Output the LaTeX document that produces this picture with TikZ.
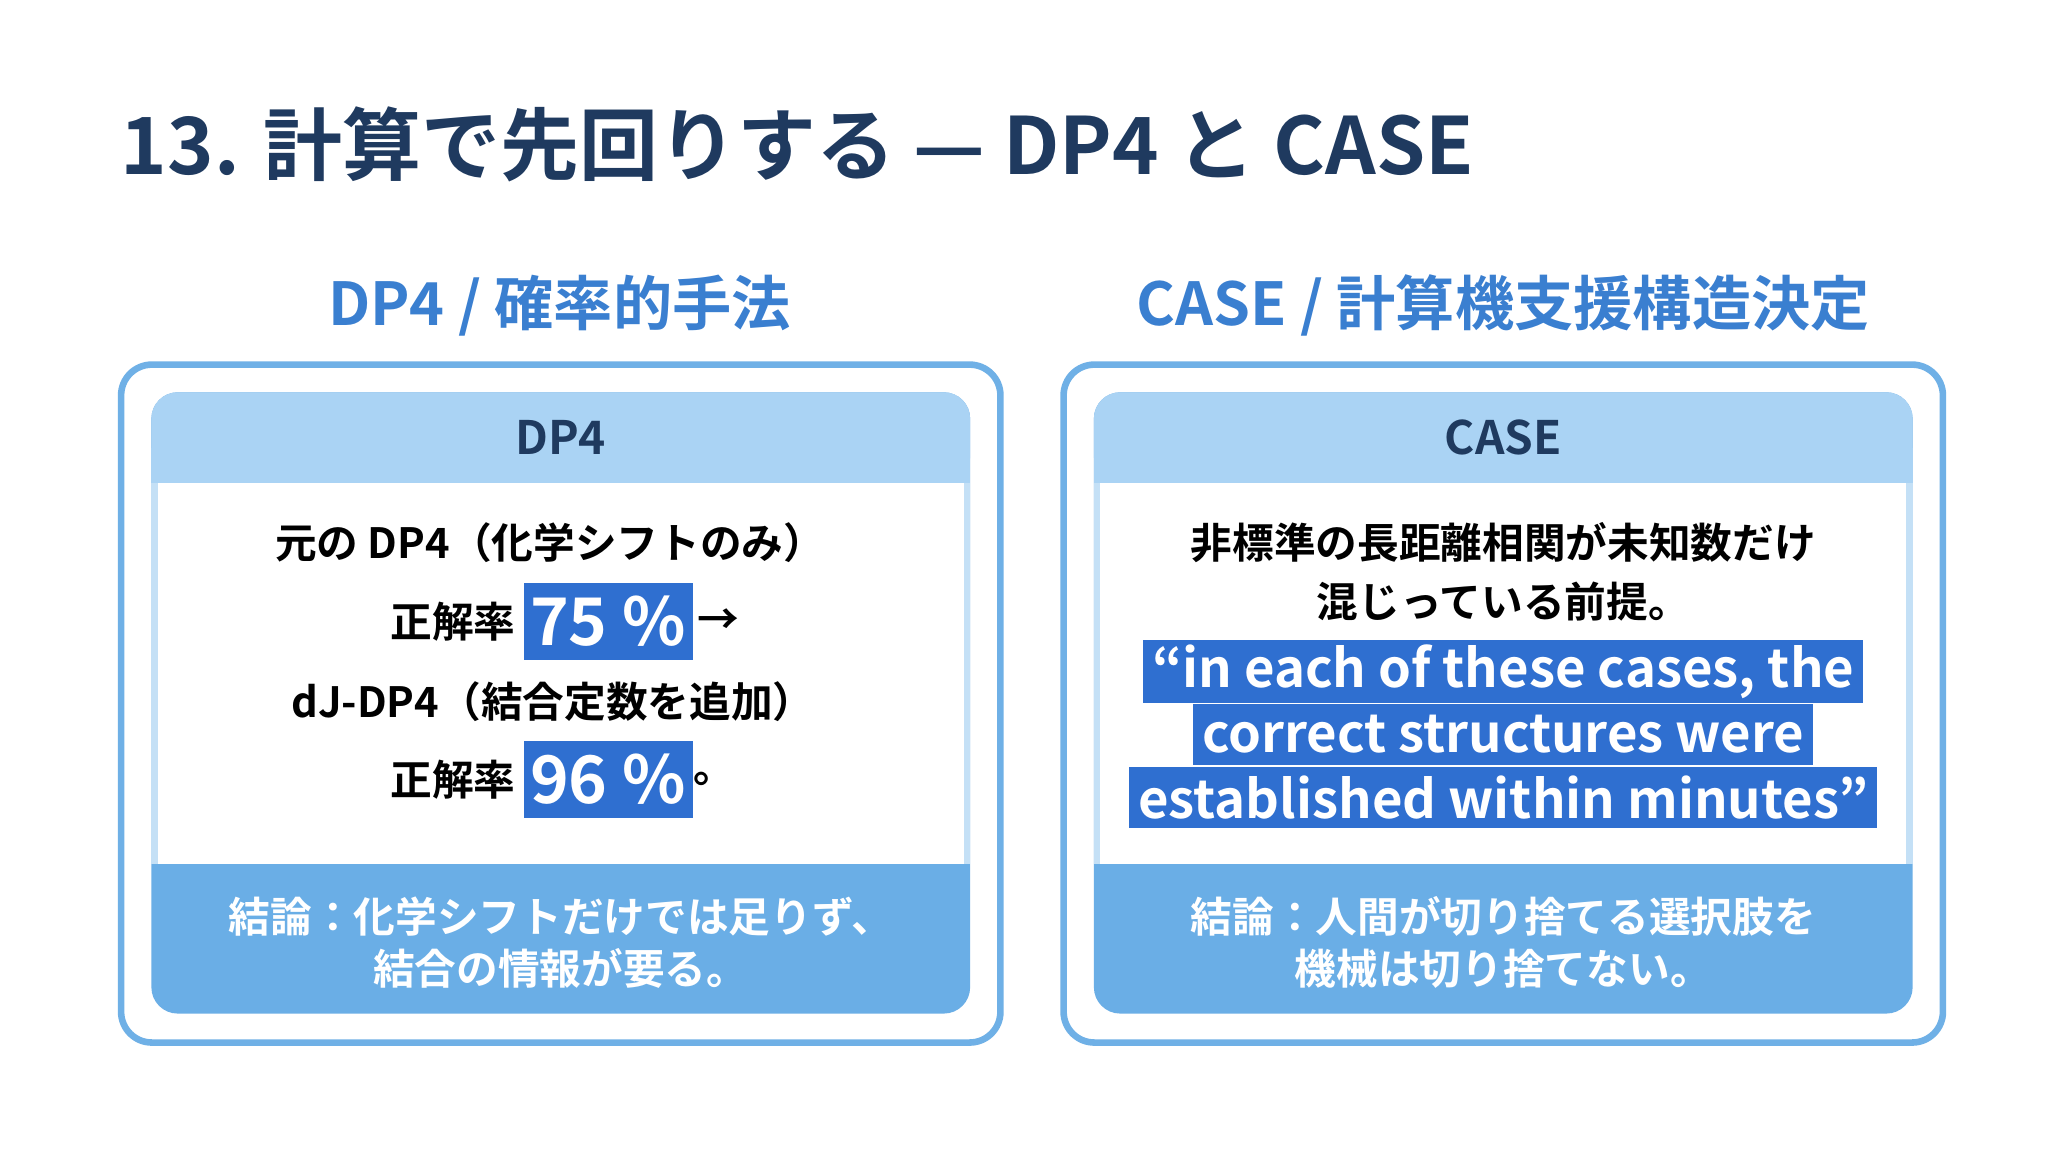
\documentclass[tikz,border=0pt]{standalone}
\usepackage{fontspec}
\setmainfont{Noto Sans CJK JP}[BoldFont={* Bold}]
\definecolor{navy}{HTML}{1F3A5F}
\definecolor{subblue}{HTML}{3A7FD0}
\definecolor{frame}{HTML}{6FB0E6}
\definecolor{hdrfill}{HTML}{AAD3F4}
\definecolor{footfill}{HTML}{6AAEE6}
\definecolor{sidefill}{HTML}{C4E0F6}
\definecolor{hilite}{HTML}{2F6FD0}
\tikzset{
  outerbox/.style={draw=frame, line width=3pt, fill=white, rounded corners=14pt},
  title/.style={font=\fontsize{36}{40}\selectfont\bfseries, text=navy, anchor=west},
  subtitle/.style={font=\fontsize{27}{30}\selectfont\bfseries, text=subblue},
  header/.style={font=\fontsize{21}{24}\selectfont\bfseries, text=navy},
  body/.style={font=\fontsize{19}{22}\selectfont\bfseries, text=black},
  pct/.style={fill=hilite, text=white, font=\fontsize{30}{32}\selectfont\bfseries,
    minimum width=77pt, minimum height=35pt, inner sep=0pt},
  quote/.style={fill=hilite, text=white, font=\fontsize{24}{26}\selectfont\bfseries,
    inner xsep=4pt, inner ysep=2pt, minimum height=28pt},
  foot/.style={font=\fontsize{19}{24}\selectfont\bfseries, text=white, align=center}
}
\begin{document}
\begin{tikzpicture}[x=0.6pt, y=-0.6pt]
\useasboundingbox (0,0) rectangle (1568,876);
\fill[white] (0,0) rectangle (1568,876);
\node[title] (ttl) at (86,110) {13. 計算で先回りする — DP4 と CASE};
\node[subtitle] (subL) at (425,232) {DP4 / 確率的手法};
\node[subtitle] (subR) at (1142,232) {CASE / 計算機支援構造決定};
% two panels
\foreach \x/\n in {0/L, 716/R} {
  \draw[outerbox] (92+\x,277) rectangle (760+\x,792);
  \fill[footfill, rounded corners=12pt] (115+\x,298) rectangle (737+\x,770);
  \fill[sidefill] (115+\x,360) rectangle (737+\x,656);
  \fill[hdrfill, rounded corners=12pt] (115+\x,298) rectangle (737+\x,367);
  \fill[hdrfill] (115+\x,340) rectangle (737+\x,367);
  \fill[white] (120+\x,367) rectangle (732+\x,656);
}
\node[header] (hdL) at (426,332) {DP4};
\node[header] (hdR) at (1142,332) {CASE};
% left body
\node[body] (l1) at (418,412) {元の DP4（化学シフトのみ）};
\node[pct] (p75) at (462,472) {75 \%};
\node[body, anchor=east] (r75) at (p75.west) {正解率};
\node[body, anchor=west, inner xsep=2pt] (arr) at (p75.east) {→};
\node[body] (l3) at (420,533) {dJ-DP4（結合定数を追加）};
\node[pct] (p96) at (462,592) {96 \%};
\node[body, anchor=east] (r96) at (p96.west) {正解率};
\node[body, anchor=west, inner xsep=0pt] (dot) at (p96.east) {。};
% right body
\node[body] (r1) at (1142,412) {非標準の長距離相関が未知数だけ};
\node[body] (r2) at (1142,457) {混じっている前提。};
\node[quote] (q1) at (1142,510) {“in each of these cases, the};
\node[quote] (q2) at (1142,558) {correct structures were};
\node[quote] (q3) at (1142,606) {established within minutes”};
% conclusions
\node[foot] (fL) at (426,716) {結論：化学シフトだけでは足りず、\\結合の情報が要る。};
\node[foot] (fR) at (1142,716) {結論：人間が切り捨てる選択肢を\\機械は切り捨てない。};
\end{tikzpicture}
\end{document}
